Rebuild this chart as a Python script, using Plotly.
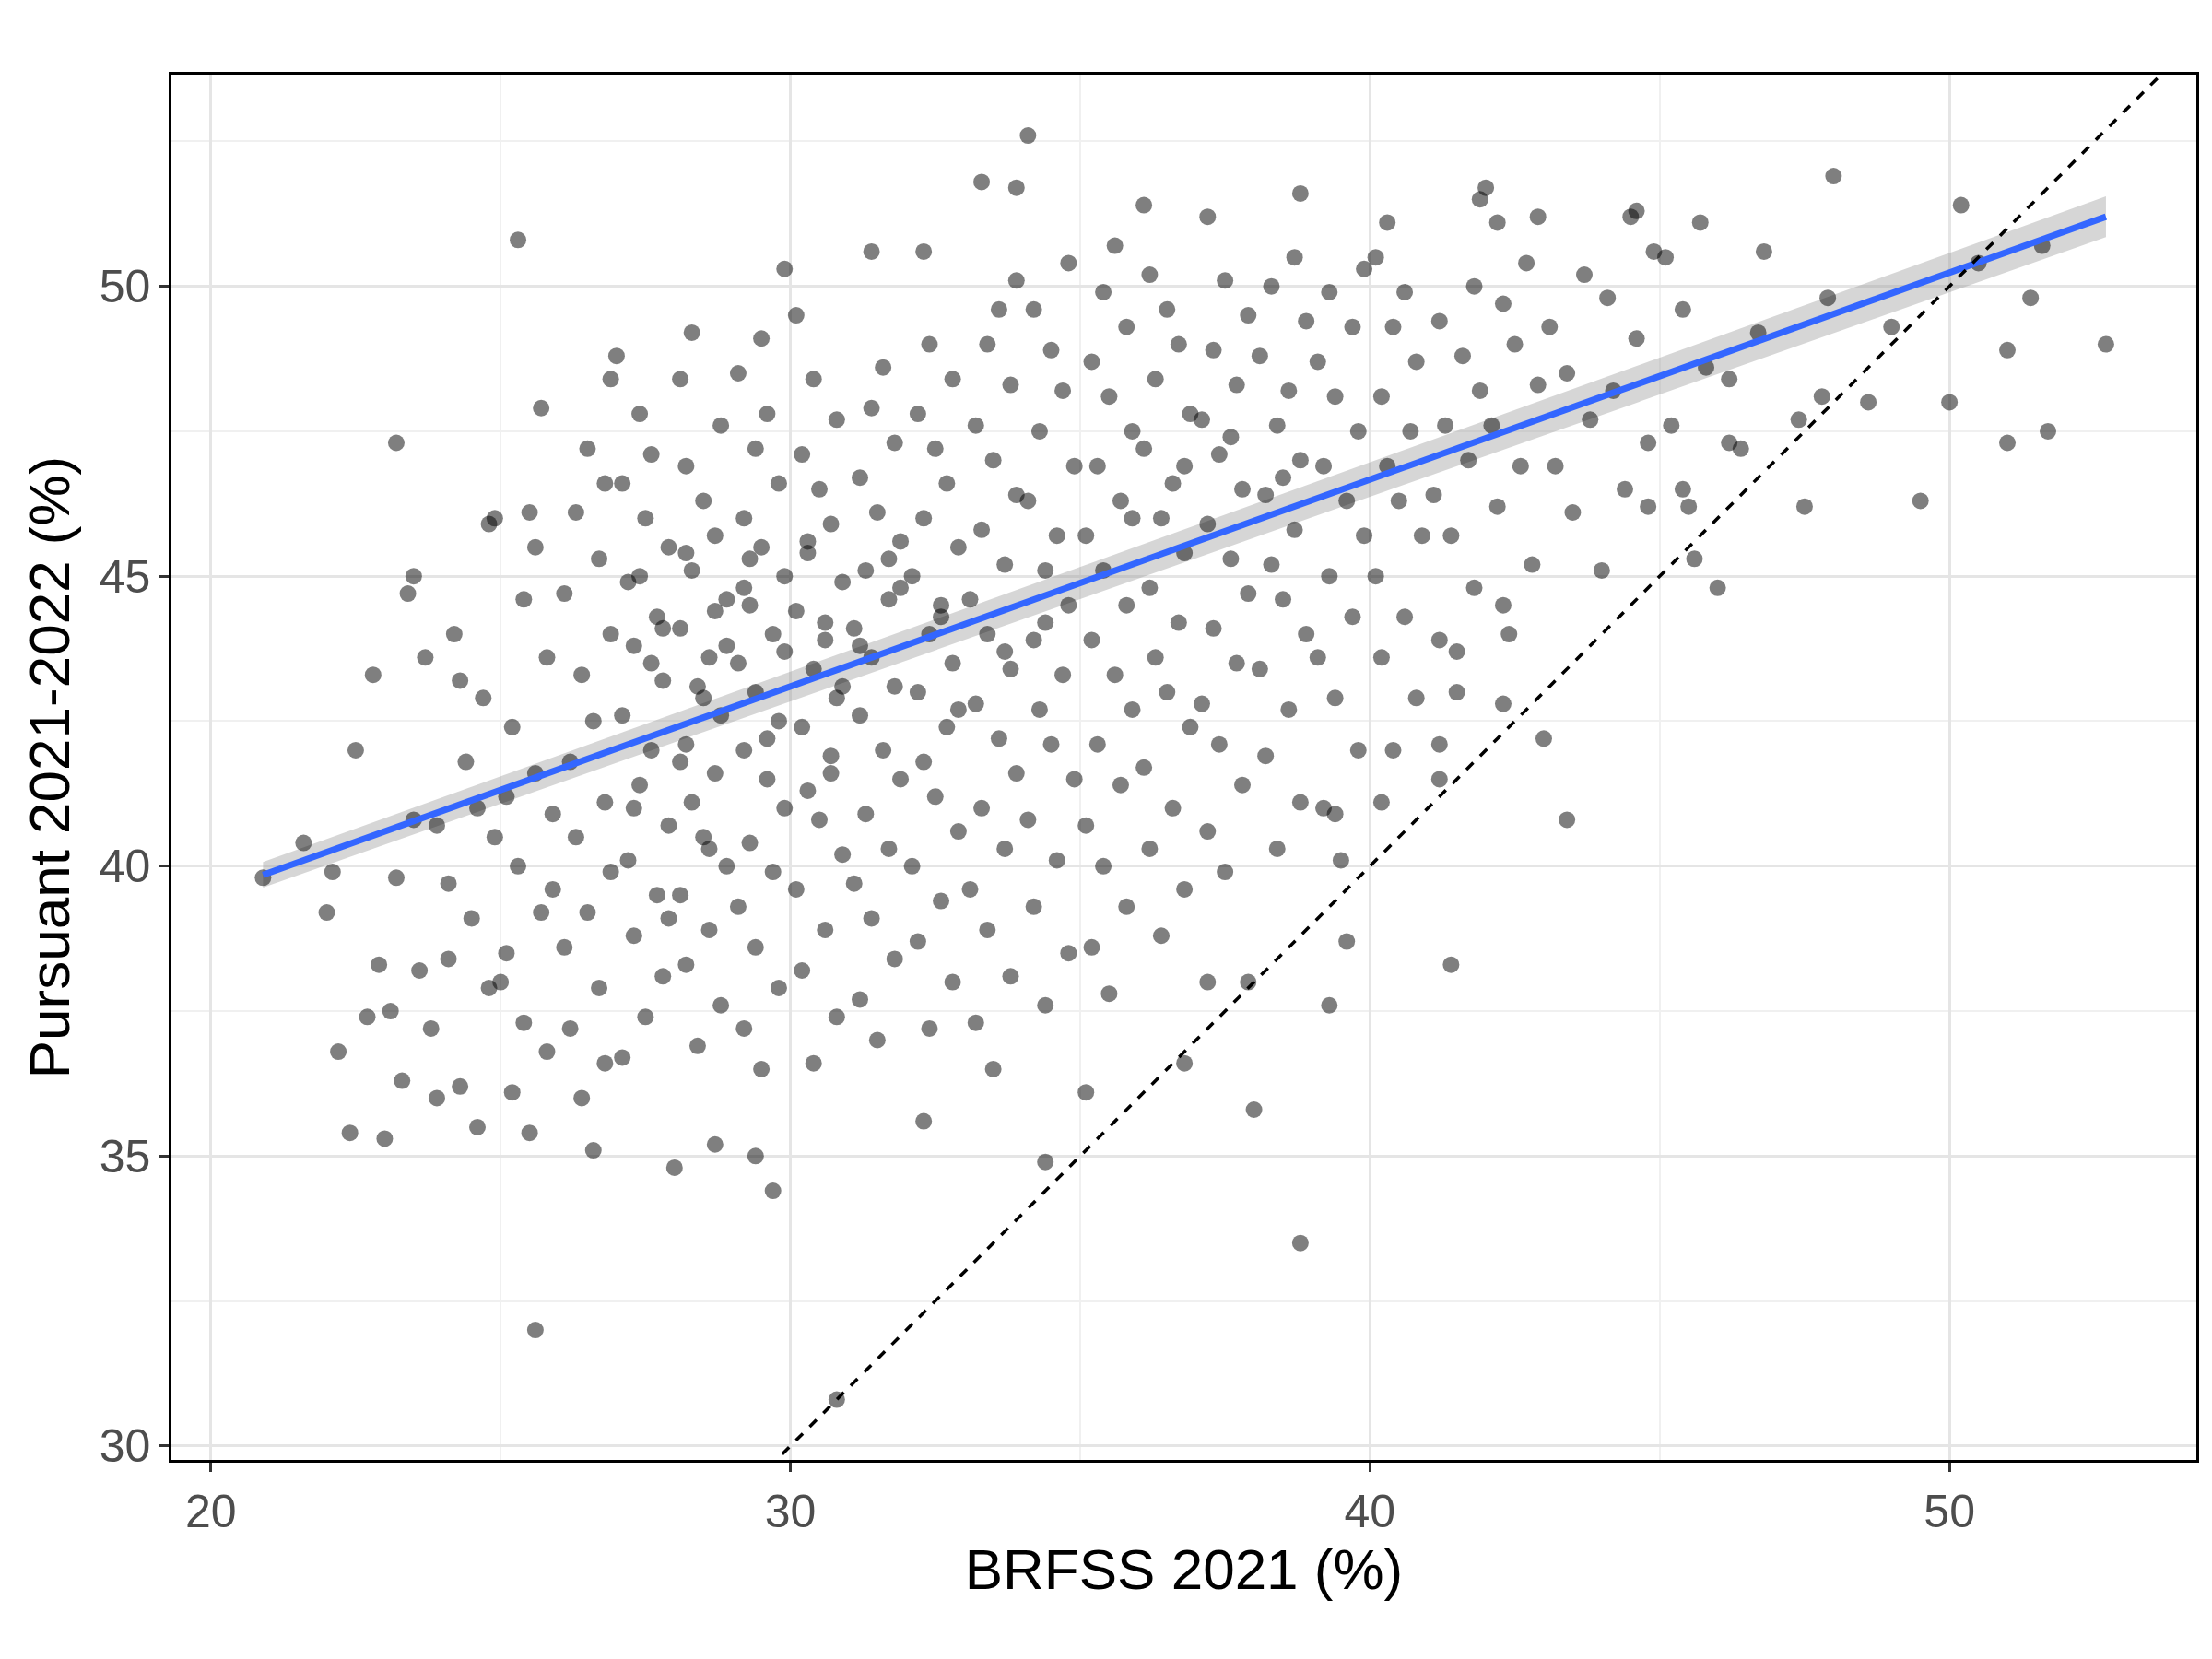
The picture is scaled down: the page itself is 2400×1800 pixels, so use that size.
import plotly.graph_objects as go

# outlying points (BRFSS %, Pursuant %)
edge_pts = [
    (20.9, 39.8), (21.6, 40.4), (22.0, 39.2), (22.5, 42.0), (23.2, 47.3), (22.8, 43.3),
    (22.4, 35.4), (23.0, 35.3), (25.6, 32.0), (25.3, 50.8), (29.9, 50.3), (34.1, 52.6),
    (33.3, 51.8), (33.9, 51.7), (30.8, 30.8), (38.8, 33.5), (38.0, 35.8), (34.4, 34.9),
    (29.7, 34.4), (28.0, 34.8), (28.7, 35.2), (29.4, 35.0), (32.3, 35.6), (35.1, 36.1),
    (41.4, 38.3), (43.4, 40.8), (43.0, 42.2), (50.2, 51.4), (48.0, 51.9), (52.7, 49.0),
    (51.0, 48.9), (51.7, 47.5), (49.5, 46.3), (47.5, 46.2), (50.0, 48.0), (51.0, 47.3),
    (51.4, 49.8), (51.6, 50.7), (45.6, 45.3), (46.0, 44.8), (44.8, 46.2), (45.4, 46.5),
    (46.2, 47.3), (41.2, 42.1), (41.2, 41.5), (40.2, 41.1), (39.6, 38.7), (39.3, 37.6),
    (39.4, 40.9), (36.8, 36.6), (37.2, 38.0), (37.9, 38.0), (42.3, 42.8), (41.5, 43.7),
    (42.3, 44.5), (44.0, 45.1), (42.9, 51.2), (42.0, 51.7), (44.6, 51.3), (46.8, 50.6),
    (38.8, 51.6), (37.2, 51.2), (36.1, 51.4), (50.5, 50.4), (49.0, 49.3), (48.6, 48.0),
    (22.2, 36.8), (22.7, 37.4), (22.1, 39.9), (23.5, 40.8), (22.9, 38.3),
]

# main cloud, read band by band
cloud_pts = [
    (23.3, 36.3), (23.8, 37.2), (23.6, 38.2), (23.2, 39.8), (23.9, 40.7), (23.7, 43.6),
    (23.4, 44.7), (23.5, 45.0), (23.9, 36.0), (23.1, 37.5),
    (24.6, 35.5), (24.3, 36.2), (24.8, 37.9), (24.1, 38.4), (24.5, 39.1), (24.9, 40.5),
    (24.4, 41.8), (24.7, 42.9), (24.2, 44.0), (24.8, 45.9), (24.9, 46.0), (24.3, 43.2),
    (24.6, 41.0), (24.1, 39.7),
    (25.5, 35.4), (25.2, 36.1), (25.8, 36.8), (25.4, 37.3), (25.1, 38.5), (25.7, 39.2),
    (25.3, 40.0), (25.9, 40.9), (25.6, 41.6), (25.2, 42.4), (25.8, 43.6), (25.4, 44.6),
    (25.6, 45.5), (25.5, 46.1), (25.7, 47.9), (25.0, 38.0), (25.9, 39.6), (25.1, 41.2),
    (26.6, 35.1), (26.4, 36.0), (26.8, 36.6), (26.2, 37.2), (26.7, 37.9), (26.1, 38.6),
    (26.5, 39.2), (26.9, 39.9), (26.3, 40.5), (26.8, 41.1), (26.2, 41.8), (26.6, 42.5),
    (26.4, 43.3), (26.9, 44.0), (26.1, 44.7), (26.7, 45.3), (26.3, 46.1), (26.8, 46.6),
    (26.5, 47.2), (26.9, 48.4), (27.0, 48.8),
    (27.1, 36.7), (27.5, 37.4), (27.8, 38.1), (27.3, 38.8), (27.7, 39.5), (27.2, 40.1),
    (27.9, 40.7), (27.4, 41.4), (27.6, 42.0), (27.1, 42.6), (27.8, 43.2), (27.3, 43.8),
    (27.7, 44.3), (27.2, 44.9), (27.9, 45.5), (27.5, 46.0), (27.1, 46.6), (27.6, 47.1),
    (27.4, 47.8), (27.9, 39.1), (27.3, 41.0), (27.6, 43.5), (27.8, 44.1), (27.4, 45.0),
    (28.4, 36.9), (28.8, 37.6), (28.2, 38.3), (28.6, 38.9), (28.1, 39.5), (28.9, 40.0),
    (28.5, 40.5), (28.3, 41.1), (28.7, 41.6), (28.2, 42.1), (28.8, 42.6), (28.4, 43.1),
    (28.6, 43.6), (28.1, 44.1), (28.9, 44.6), (28.3, 45.1), (28.7, 45.7), (28.5, 46.3),
    (28.2, 46.9), (28.8, 47.6), (28.1, 48.4), (28.3, 49.2), (28.9, 43.8), (28.5, 42.9),
    (28.1, 41.8), (28.7, 44.4), (28.2, 45.4), (28.6, 40.3),
    (29.5, 36.5), (29.2, 37.2), (29.8, 37.9), (29.4, 38.6), (29.1, 39.3), (29.7, 39.9),
    (29.3, 40.4), (29.9, 41.0), (29.6, 41.5), (29.2, 42.0), (29.8, 42.5), (29.4, 43.0),
    (29.1, 43.5), (29.7, 44.0), (29.3, 44.5), (29.9, 45.0), (29.5, 45.5), (29.2, 46.0),
    (29.8, 46.6), (29.4, 47.2), (29.6, 47.8), (29.1, 48.5), (29.5, 49.1), (29.9, 43.7),
    (29.2, 44.8), (29.6, 42.2), (29.3, 45.3),
    (30.4, 36.6), (30.8, 37.4), (30.2, 38.2), (30.6, 38.9), (30.1, 39.6), (30.9, 40.2),
    (30.5, 40.8), (30.3, 41.3), (30.7, 41.9), (30.2, 42.4), (30.8, 42.9), (30.4, 43.4),
    (30.6, 43.9), (30.1, 44.4), (30.9, 44.9), (30.3, 45.4), (30.7, 45.9), (30.5, 46.5),
    (30.2, 47.1), (30.8, 47.7), (30.4, 48.4), (30.1, 49.5), (30.6, 44.2), (30.9, 43.1),
    (30.3, 45.6), (30.7, 41.6),
    (31.5, 37.0), (31.2, 37.7), (31.8, 38.4), (31.4, 39.1), (31.1, 39.7), (31.7, 40.3),
    (31.3, 40.9), (31.9, 41.5), (31.6, 42.0), (31.2, 42.6), (31.8, 43.1), (31.4, 43.6),
    (31.1, 44.1), (31.7, 44.6), (31.3, 45.1), (31.9, 45.6), (31.5, 46.1), (31.2, 46.7),
    (31.8, 47.3), (31.4, 47.9), (31.6, 48.6), (31.4, 50.6), (31.9, 44.8), (31.2, 43.8),
    (31.7, 45.3),
    (32.4, 37.2), (32.8, 38.0), (32.2, 38.7), (32.6, 39.4), (32.1, 40.0), (32.9, 40.6),
    (32.5, 41.2), (32.3, 41.8), (32.7, 42.4), (32.2, 43.0), (32.8, 43.5), (32.4, 44.0),
    (32.6, 44.5), (32.1, 45.0), (32.9, 45.5), (32.3, 46.0), (32.7, 46.6), (32.5, 47.2),
    (32.2, 47.8), (32.8, 48.4), (32.4, 49.0), (32.3, 50.6), (32.6, 44.3), (32.9, 42.7),
    (33.5, 36.5), (33.2, 37.3), (33.8, 38.1), (33.4, 38.9), (33.1, 39.6), (33.7, 40.3),
    (33.3, 41.0), (33.9, 41.6), (33.6, 42.2), (33.2, 42.8), (33.8, 43.4), (33.4, 44.0),
    (33.1, 44.6), (33.7, 45.2), (33.3, 45.8), (33.9, 46.4), (33.5, 47.0), (33.2, 47.6),
    (33.8, 48.3), (33.4, 49.0), (33.6, 49.6), (33.9, 50.1), (33.7, 43.7),
    (34.4, 37.6), (34.8, 38.5), (34.2, 39.3), (34.6, 40.1), (34.1, 40.8), (34.9, 41.5),
    (34.5, 42.1), (34.3, 42.7), (34.7, 43.3), (34.2, 43.9), (34.8, 44.5), (34.4, 45.1),
    (34.6, 45.7), (34.1, 46.3), (34.9, 46.9), (34.3, 47.5), (34.7, 48.2), (34.5, 48.9),
    (34.2, 49.6), (34.8, 50.4), (34.4, 44.2),
    (35.5, 37.8), (35.2, 38.6), (35.8, 39.3), (35.4, 40.0), (35.1, 40.7), (35.7, 41.4),
    (35.3, 42.1), (35.9, 42.7), (35.6, 43.3), (35.2, 43.9), (35.8, 44.5), (35.4, 45.1),
    (35.1, 45.7), (35.7, 46.3), (35.3, 46.9), (35.9, 47.5), (35.5, 48.1), (35.2, 48.7),
    (35.8, 49.3), (35.4, 49.9), (35.6, 50.7), (35.9, 46.0),
    (36.4, 38.8), (36.8, 39.6), (36.2, 40.3), (36.6, 41.0), (36.1, 41.7), (36.9, 42.4),
    (36.5, 43.0), (36.3, 43.6), (36.7, 44.2), (36.2, 44.8), (36.8, 45.4), (36.4, 46.0),
    (36.6, 46.6), (36.1, 47.2), (36.9, 47.8), (36.3, 48.4), (36.7, 49.0), (36.5, 49.6),
    (36.2, 50.2), (36.8, 46.9),
    (37.5, 39.9), (37.2, 40.6), (37.8, 41.4), (37.4, 42.1), (37.1, 42.8), (37.7, 43.5),
    (37.3, 44.1), (37.9, 44.7), (37.6, 45.3), (37.2, 45.9), (37.8, 46.5), (37.4, 47.1),
    (37.1, 47.7), (37.7, 48.3), (37.3, 48.9), (37.9, 49.5), (37.5, 50.1), (37.6, 47.4),
    (38.4, 40.3), (38.8, 41.1), (38.2, 41.9), (38.6, 42.7), (38.1, 43.4), (38.9, 44.0),
    (38.5, 44.6), (38.3, 45.2), (38.7, 45.8), (38.2, 46.4), (38.8, 47.0), (38.4, 47.6),
    (38.6, 48.2), (38.1, 48.8), (38.9, 49.4), (38.3, 50.0), (38.7, 50.5), (38.5, 46.7),
    (39.5, 40.1), (39.2, 41.0), (39.8, 42.0), (39.4, 42.9), (39.1, 43.6), (39.7, 44.3),
    (39.3, 45.0), (39.9, 45.7), (39.6, 46.3), (39.2, 46.9), (39.8, 47.5), (39.4, 48.1),
    (39.1, 48.7), (39.7, 49.3), (39.3, 49.9), (39.9, 50.3),
    (40.4, 42.0), (40.8, 42.9), (40.2, 43.6), (40.6, 44.3), (40.1, 45.0), (40.9, 45.7),
    (40.5, 46.3), (40.3, 46.9), (40.7, 47.5), (40.2, 48.1), (40.8, 48.7), (40.4, 49.3),
    (40.6, 49.9), (40.1, 50.5), (40.3, 51.1),
    (41.5, 43.0), (41.2, 43.9), (41.8, 44.8), (41.4, 45.7), (41.1, 46.4), (41.7, 47.0),
    (41.3, 47.6), (41.9, 48.2), (41.6, 48.8), (41.2, 49.4), (41.8, 50.0), (41.9, 51.5),
    (42.4, 44.0), (42.8, 45.2), (42.2, 46.2), (42.6, 46.9), (42.1, 47.6), (42.9, 48.3),
    (42.5, 49.0), (42.3, 49.7), (42.7, 50.4), (42.2, 51.1),
    (43.5, 46.1), (43.2, 46.9), (43.8, 47.7), (43.4, 48.5), (43.1, 49.3), (43.7, 50.2),
    (44.4, 46.5), (44.8, 47.3), (44.2, 48.2), (44.6, 49.1), (44.1, 49.8), (44.9, 50.6),
    (44.5, 51.2), (45.5, 46.2), (45.2, 47.6), (45.8, 48.6), (45.4, 49.6), (45.1, 50.5),
    (45.7, 51.1), (46.4, 47.2), (46.2, 48.4), (46.7, 49.2), (47.4, 47.7), (47.8, 48.1),
    (47.9, 49.8),
]

# linear fit: endpoints and band half width
fit_x = [20.9, 52.7]
fit_y = [39.85, 51.2]
band_half = [0.22, 0.35]

px = [p[0] for p in edge_pts + cloud_pts]
py = [p[1] for p in edge_pts + cloud_pts]

fig = go.Figure()

# grey confidence band
fig.add_trace(go.Scatter(
    x=fit_x + fit_x[::-1],
    y=[fit_y[0] + band_half[0], fit_y[1] + band_half[1], fit_y[1] - band_half[1], fit_y[0] - band_half[0]],
    fill="toself", fillcolor="rgba(153,153,153,0.4)", line=dict(width=0),
    mode="lines", hoverinfo="skip", showlegend=False,
))

fig.add_trace(go.Scatter(
    x=px, y=py, mode="markers",
    marker=dict(color="rgba(0,0,0,0.5)", size=18, line=dict(width=0)),
    showlegend=False,
))

fig.add_trace(go.Scatter(
    x=fit_x, y=fit_y, mode="lines",
    line=dict(color="#3366FF", width=7), showlegend=False,
))

# identity line
fig.add_trace(go.Scatter(
    x=[19, 55], y=[19, 55], mode="lines",
    line=dict(color="black", width=3.5, dash="dash"), showlegend=False,
))

axis_common = dict(
    showgrid=True, gridcolor="#E5E5E5", gridwidth=3,
    minor=dict(showgrid=True, gridcolor="#F0F0F0", gridwidth=1.5, dtick=5),
    dtick=10, zeroline=False, showline=True, linecolor="black", linewidth=2.5, mirror=True,
    ticks="outside", ticklen=10, tickcolor="#333333", tickwidth=2.5,
    tickfont=dict(size=50, color="#4D4D4D"),
)

fig.update_xaxes(title_text="BRFSS 2021 (%)", range=[19.32, 54.26], tick0=20,
                 title_font=dict(size=62, color="black"), title_standoff=12, **axis_common)
axis_common["minor"] = dict(showgrid=True, gridcolor="#F0F0F0", gridwidth=1.5, dtick=2.5)
axis_common["dtick"] = 5
fig.update_yaxes(title_text="Pursuant 2021-2022 (%)", range=[29.76, 53.65], tick0=30,
                 title_font=dict(size=62, color="black"), title_standoff=12, **axis_common)

fig.update_layout(
    width=2400, height=1800,
    plot_bgcolor="white", paper_bgcolor="white",
    font=dict(family="Liberation Sans, Arial, sans-serif"),
    margin=dict(l=178, r=25, t=73, b=224),
)

fig.write_html("out.html")
